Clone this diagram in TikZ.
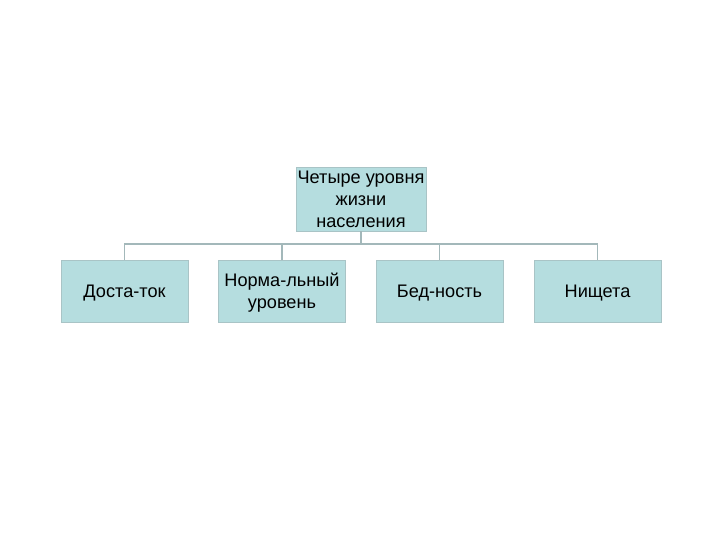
\documentclass[tikz,border=0pt]{standalone}
\usepackage{fontspec}
\setmainfont{Liberation Sans}
\usepackage{tikz}
\usetikzlibrary{positioning,calc}

\definecolor{boxfill}{HTML}{B5DDDF}
\definecolor{boxline}{HTML}{A9C4C6}
\definecolor{linkcol}{HTML}{A3B8BA}

\tikzset{
  level/.style={fill=boxfill,draw=boxline,line width=0.4pt,minimum width=3.81cm,
    minimum height=1.86cm,align=center,font=\fontsize{15.5}{18.6}\selectfont,
    inner sep=1pt,text depth=0pt},
  link/.style={draw=linkcol,line width=0.9pt}
}

\begin{document}
\begin{tikzpicture}[x=0.03cm,y=-0.03cm]
  \useasboundingbox (0,0) rectangle (720,540);

  % root
  \node[level,minimum width=3.9cm,minimum height=1.92cm] (root) at (361,199) {Четыре уровня\\жизни\\населения};

  % levels
  \node[level] (rich) at (124.5,291) {Доста-ток};
  \node[level] (norm) at (282,291) {Норма-льный\\уровень};
  \node[level] (poor) at (439.5,291) {Бед-ность};
  \node[level] (need) at (597.5,291) {Нищета};

  % connectors
  \coordinate (bus) at (361,244);
  \draw[link] (root.south) -- (bus);
  \draw[link] (rich.north) -- (rich.north |- bus) -- (need.north |- bus) -- (need.north);
  \draw[link] (norm.north) -- (norm.north |- bus);
  \draw[link] (poor.north) -- (poor.north |- bus);
\end{tikzpicture}
\end{document}
